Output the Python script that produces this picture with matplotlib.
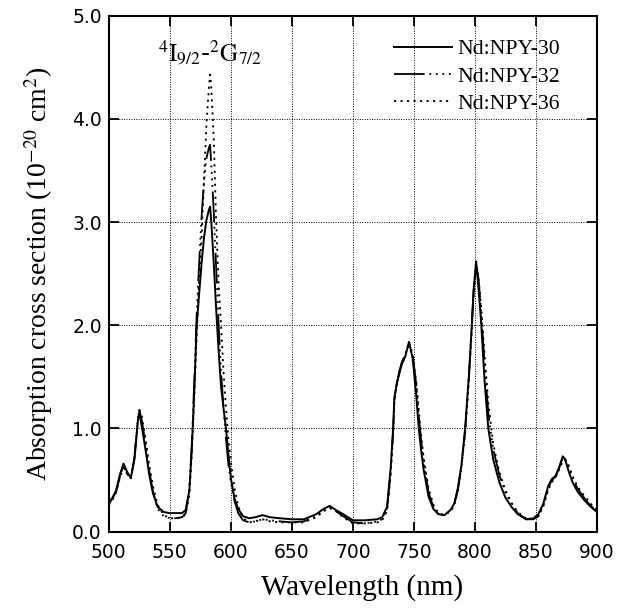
import matplotlib
matplotlib.use("Agg")
import matplotlib.pyplot as plt
from matplotlib.ticker import FormatStrFormatter

# wavelength (nm)
wl = [500, 503, 506, 509, 512, 515, 518, 521, 524, 525, 527, 530, 533, 536, 540,
      545, 550, 555, 560, 563, 566, 568, 570, 572, 574, 576, 578, 580, 582, 583,
      584, 586, 588, 590, 592, 594, 596, 598, 600, 603, 606, 610, 615, 620, 626,
      632, 640, 650, 660, 670, 676, 681, 686, 692, 700, 710, 720, 724, 728, 731,
      733, 734, 736, 738, 740, 743, 746, 749, 752, 754, 756, 758, 762, 766, 770,
      775, 780, 783, 786, 789, 792, 795, 797, 799, 801, 803, 805, 808, 811, 815,
      820, 825, 830, 835, 842, 848, 852, 856, 860, 863, 866, 869, 872, 874, 877,
      880, 884, 890, 895, 900]

# absorption cross section (10^-20 cm^2)
npy30 = [0.28, 0.33, 0.40, 0.55, 0.66, 0.58, 0.52, 0.70, 1.10, 1.15, 1.02, 0.80, 0.56, 0.38, 0.24,
         0.19, 0.18, 0.18, 0.18, 0.21, 0.40, 0.80, 1.35, 2.00, 2.30, 2.60, 2.85, 3.02, 3.12, 3.15,
         3.00, 2.60, 2.15, 1.75, 1.40, 1.20, 1.00, 0.75, 0.52, 0.32, 0.22, 0.15, 0.13, 0.14, 0.16,
         0.14, 0.13, 0.12, 0.12, 0.17, 0.22, 0.25, 0.21, 0.17, 0.11, 0.11, 0.12, 0.14, 0.24, 0.62,
         1.00, 1.30, 1.44, 1.53, 1.62, 1.70, 1.84, 1.68, 1.31, 1.00, 0.78, 0.60, 0.34, 0.22, 0.17,
         0.16, 0.21, 0.27, 0.42, 0.65, 1.00, 1.50, 1.90, 2.35, 2.62, 2.35, 2.05, 1.45, 1.00, 0.70,
         0.48, 0.33, 0.24, 0.17, 0.12, 0.13, 0.17, 0.27, 0.44, 0.51, 0.54, 0.62, 0.73, 0.70, 0.58,
         0.48, 0.39, 0.30, 0.24, 0.19]
npy32 = [0.27, 0.32, 0.39, 0.53, 0.63, 0.56, 0.51, 0.72, 1.12, 1.18, 1.08, 0.86, 0.60, 0.40, 0.22,
         0.15, 0.13, 0.13, 0.14, 0.18, 0.42, 0.85, 1.45, 2.10, 2.60, 3.05, 3.40, 3.62, 3.72, 3.75,
         3.55, 3.10, 2.55, 2.00, 1.55, 1.20, 0.90, 0.65, 0.48, 0.30, 0.18, 0.11, 0.09, 0.10, 0.12,
         0.11, 0.10, 0.09, 0.10, 0.15, 0.20, 0.23, 0.20, 0.15, 0.09, 0.08, 0.10, 0.12, 0.22, 0.58,
         0.98, 1.28, 1.43, 1.55, 1.64, 1.72, 1.84, 1.72, 1.42, 1.12, 0.88, 0.68, 0.38, 0.24, 0.17,
         0.16, 0.20, 0.26, 0.40, 0.63, 0.98, 1.48, 1.90, 2.35, 2.60, 2.45, 2.15, 1.62, 1.15, 0.80,
         0.55, 0.38, 0.27, 0.18, 0.12, 0.12, 0.15, 0.25, 0.42, 0.50, 0.53, 0.62, 0.72, 0.70, 0.62,
         0.52, 0.42, 0.32, 0.25, 0.20]
npy36 = [0.26, 0.31, 0.38, 0.52, 0.62, 0.56, 0.52, 0.72, 1.10, 1.19, 1.12, 0.90, 0.66, 0.45, 0.26,
         0.16, 0.13, 0.13, 0.14, 0.17, 0.35, 0.75, 1.30, 1.90, 2.45, 2.85, 3.40, 3.95, 4.30, 4.43,
         4.30, 3.80, 3.00, 2.40, 2.00, 1.55, 1.20, 0.90, 0.68, 0.42, 0.25, 0.13, 0.09, 0.10, 0.12,
         0.10, 0.09, 0.09, 0.09, 0.14, 0.20, 0.23, 0.20, 0.14, 0.08, 0.08, 0.09, 0.11, 0.20, 0.55,
         0.95, 1.25, 1.42, 1.55, 1.62, 1.72, 1.80, 1.70, 1.45, 1.18, 0.92, 0.72, 0.42, 0.26, 0.18,
         0.16, 0.20, 0.25, 0.40, 0.62, 0.95, 1.45, 1.85, 2.30, 2.58, 2.45, 2.20, 1.70, 1.25, 0.85,
         0.58, 0.40, 0.28, 0.19, 0.13, 0.12, 0.15, 0.24, 0.40, 0.48, 0.52, 0.60, 0.68, 0.70, 0.64,
         0.54, 0.44, 0.34, 0.27, 0.21]

labels = ["Nd:NPY-30", "Nd:NPY-32", "Nd:NPY-36"]

plt.rcParams['mathtext.fontset'] = 'stix'
serif = 'Liberation Serif'

fig = plt.figure(figsize=(6.29, 6.09), dpi=100)
ax = fig.add_axes([0.173, 0.127, 0.776, 0.847])

ax.plot(wl, npy30, color='black', lw=1.4, ls='-', label=labels[0])
ax.plot(wl, npy32, color='black', lw=1.3,
        ls=(0, (17, 2.6, 1, 2.6, 1, 2.6, 1, 2.6, 1, 2.6)), label=labels[1])
ax.plot(wl, npy36, color='black', lw=1.3, ls=(0, (1.2, 2.4)), label=labels[2])

ax.set_xlim(500, 900)
ax.set_ylim(0, 5)
ax.set_xticks(range(500, 901, 50))
ax.set_yticks([0, 1, 2, 3, 4, 5])
ax.yaxis.set_major_formatter(FormatStrFormatter('%.1f'))
ax.grid(True, color='black', ls=(0, (1, 1.5)), lw=0.7)
ax.tick_params(direction='in', length=7, width=1.3, top=True, right=True,
               labelsize=13.5)
ax.tick_params(axis='x', pad=8)
ax.tick_params(axis='y', pad=5)
for lab in ax.get_xticklabels() + ax.get_yticklabels():
    lab.set_family('DejaVu Sans')
for sp in ax.spines.values():
    sp.set_linewidth(1.5)

ax.set_xlabel('Wavelength (nm)', family=serif, fontsize=21)
ax.xaxis.set_label_coords(0.518, -0.082)
ax.set_ylabel(r'Absorption cross section (10$^{-20}$ cm$^{2}$)', family=serif, fontsize=20, labelpad=12)

ax.text(583, 4.56, r'$^{4}\mathrm{I}_{9/2}$-$^{2}\mathrm{G}_{7/2}$', fontsize=18,
        ha='center', va='baseline')

ax.legend(loc='upper right', frameon=False, handlelength=2.66, handletextpad=0.25,
          labelspacing=0.32, borderaxespad=0, borderpad=0,
          prop={'family': serif, 'size': 15.7},
          bbox_to_anchor=(0.924, 0.955))

fig.savefig('out.png', dpi=100)
